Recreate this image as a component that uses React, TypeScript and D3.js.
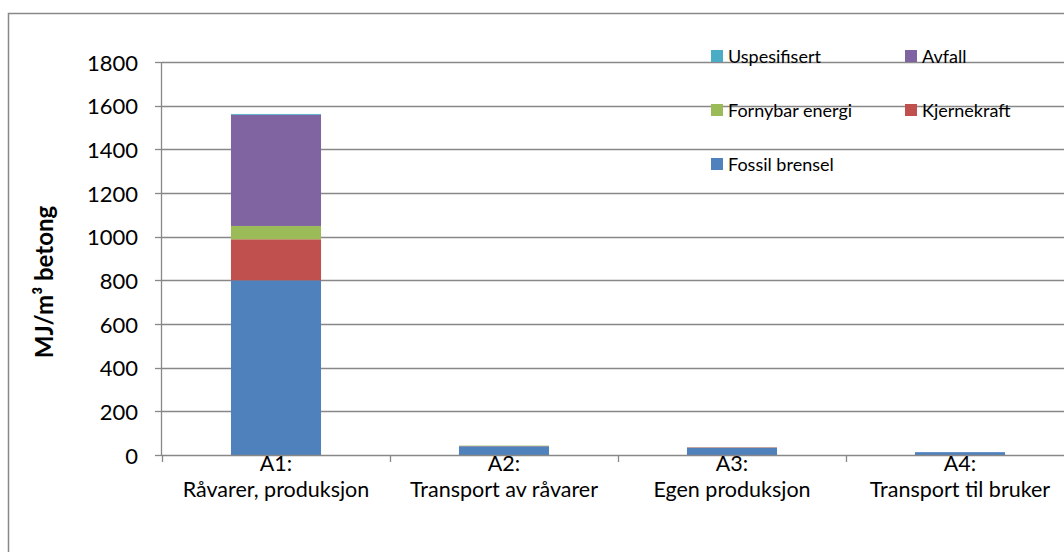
import React from "react";
import * as d3 from "d3";

const categories = ["A1:|Råvarer, produksjon", "A2:|Transport av råvarer", "A3:|Egen produksjon", "A4:|Transport til bruker"];
const seriesNames = ["Fossil brensel", "Kjernekraft", "Fornybar energi", "Avfall", "Uspesifisert"];
const seriesColors = ["#4F81BD", "#C0504D", "#9BBB59", "#8064A2", "#4BACC6"];
const fossil = [800, 40, 32, 13];
const kjernekraft = [188, 1, 2, 0];
const fornybar = [61, 2, 1, 0];
const avfall = [509, 0, 1, 0];
const uspesifisert = [4, 0, 0, 0];
const yTicks = [0, 200, 400, 600, 800, 1000, 1200, 1400, 1600, 1800];

const FONT = "Lato, 'Open Sans', sans-serif";

export default function App() {
  const values = [fossil, kjernekraft, fornybar, avfall, uspesifisert];
  const rows = categories.map((c, i) => {
    const r: any = { cat: c };
    seriesNames.forEach((s, j) => (r[s] = values[j][i]));
    return r;
  });
  const stacked = d3.stack<any>().keys(seriesNames)(rows);
  const x = d3.scaleBand().domain(categories).range([162, 1074]).paddingInner(0.605).paddingOuter(0.3025);
  const y = d3.scaleLinear().domain([0, 1800]).range([455, 62]);
  const step = x.step();
  const legendItems = [
    { name: "Uspesifisert", col: 0, row: 0 },
    { name: "Avfall", col: 1, row: 0 },
    { name: "Fornybar energi", col: 0, row: 1 },
    { name: "Kjernekraft", col: 1, row: 1 },
    { name: "Fossil brensel", col: 0, row: 2 },
  ];
  return (
    <svg width={1064} height={552} style={{ position: "absolute", left: 0, top: 0 }} fontFamily={FONT}>
      <rect x={0} y={0} width={1064} height={552} fill="#fff" />
      <rect x={8.5} y={13.5} width={1100} height={600} fill="#fff" stroke="#898989" strokeWidth={1.5} />
      {yTicks.map((t) => (
        <g key={t}>
          {t > 0 && <line x1={162} x2={1064} y1={Math.round(y(t)) + 0.5} y2={Math.round(y(t)) + 0.5} stroke="#888" strokeWidth={1.3} />}
          <line x1={155} x2={162} y1={Math.round(y(t)) + 0.5} y2={Math.round(y(t)) + 0.5} stroke="#888" strokeWidth={1.3} />
          <text x={138} y={y(t)} textAnchor="end" dominantBaseline="central" fontSize={22} fill="#000">{t}</text>
        </g>
      ))}
      {stacked.map((layer, j) => (
        <g key={layer.key} fill={seriesColors[j]}>
          {layer.map((d, i) => {
            const h = y(d[0]) - y(d[1]);
            if (h <= 0) return null;
            return <rect key={i} x={x(categories[i])!} y={y(d[1])} width={x.bandwidth()} height={h} />;
          })}
        </g>
      ))}
      <line x1={162} x2={1064} y1={455.5} y2={455.5} stroke="#888" strokeWidth={1.3} />
      <line x1={161.5} x2={161.5} y1={62} y2={456} stroke="#888" strokeWidth={1.3} />
      {d3.range(categories.length + 1).map((i) => (
        <line key={i} x1={162 + i * step + 0.5} x2={162 + i * step + 0.5} y1={455} y2={462} stroke="#888" strokeWidth={1.3} />
      ))}
      {categories.map((c) => {
        const [a, b] = c.split("|");
        const cx = x(c)! + x.bandwidth() / 2;
        return (
          <g key={c}>
            <text x={cx} y={463} textAnchor="middle" dominantBaseline="central" fontSize={21.5}>{a}</text>
            <text x={cx} y={489} textAnchor="middle" dominantBaseline="central" fontSize={21.5}>{b}</text>
          </g>
        );
      })}
      <text transform="translate(43,282) rotate(-90)" textAnchor="middle" dominantBaseline="central" fontSize={24} fontWeight="bold">
        MJ/m³ betong
      </text>
      {legendItems.map((it) => {
        const lx = 711 + it.col * 194;
        const ly = 56 + it.row * 54;
        const idx = seriesNames.indexOf(it.name);
        return (
          <g key={it.name}>
            <rect x={lx} y={ly - 6} width={12} height={12} fill={seriesColors[idx]} />
            <text x={lx + 17} y={ly} dominantBaseline="central" fontSize={18}>{it.name}</text>
          </g>
        );
      })}
    </svg>
  );
}
